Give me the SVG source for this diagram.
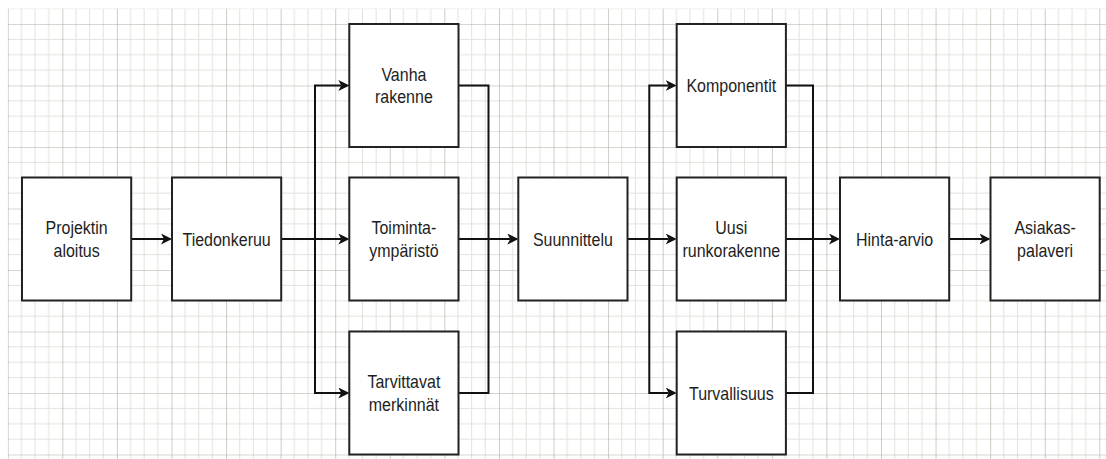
<svg xmlns="http://www.w3.org/2000/svg" width="1106" height="459" viewBox="0 0 1106 459">
  <style>
    .box { fill: #ffffff; stroke: #222222; stroke-width: 2; }
    .lbl { font-family: "Liberation Sans", Arial, sans-serif; font-size: 16px; fill: #1e1e1e; text-anchor: middle; }
    .wire { fill: none; stroke: #111111; stroke-width: 2; }
    .arrow { marker-end: url(#head); }
  </style>
  <defs>
    <!-- drafting paper: major lines every 4 cells -->
    <pattern id="paper" patternUnits="userSpaceOnUse" x="7.72" y="24" width="54.58" height="61.5">
      <g stroke="#e0e3db" stroke-width="1">
        <line x1="13.645" y1="0" x2="13.645" y2="61.5"/>
        <line x1="27.29" y1="0" x2="27.29" y2="61.5"/>
        <line x1="40.935" y1="0" x2="40.935" y2="61.5"/>
        <line x1="0" y1="15.375" x2="54.58" y2="15.375"/>
        <line x1="0" y1="30.75" x2="54.58" y2="30.75"/>
        <line x1="0" y1="46.125" x2="54.58" y2="46.125"/>
      </g>
      <g stroke="#a7ae9c" stroke-width="1.2">
        <line x1="0" y1="0" x2="0" y2="61.5"/>
        <line x1="0" y1="0" x2="54.58" y2="0"/>
      </g>
    </pattern>
    <marker id="head" viewBox="0 0 11 11" refX="3" refY="5.5" markerUnits="userSpaceOnUse" markerWidth="11" markerHeight="11" orient="auto">
      <path d="M0,0 L11,5.5 L0,11 L3,5.5 Z" fill="#111111"/>
    </marker>
  </defs>

  <rect width="1106" height="459" fill="#ffffff"/>
  <rect x="7.7" y="8.6" width="1098.3" height="450.4" fill="url(#paper)"/>

  <g id="connectors">
    <path class="wire arrow" d="M131,239 H164"/>
    <path class="wire arrow" d="M281.2,239 H341.3"/>
    <path class="wire arrow" d="M281.2,239 H315 V85.5 H341.3"/>
    <path class="wire arrow" d="M315,239 V393 H341.3"/>
    <path class="wire" d="M458.5,85.5 H488.5 V393 H458.5"/>
    <path class="wire arrow" d="M458.5,239 H510.3"/>
    <path class="wire arrow" d="M627.5,239 H668.7"/>
    <path class="wire arrow" d="M627.5,239 H649.3 V85.5 H668.7"/>
    <path class="wire arrow" d="M649.3,239 V393 H668.7"/>
    <path class="wire" d="M785.9,85.5 H813 V393 H785.9"/>
    <path class="wire arrow" d="M785.9,239 H832"/>
    <path class="wire arrow" d="M949.2,239 H982.5"/>
  </g>

  <g id="projektin-aloitus">
    <rect class="box" x="22" y="177.5" width="109.2" height="123"/>
    <text class="lbl" transform="translate(76.6,239) scale(1,1.127)"><tspan x="0" y="-4.4">Projektin</tspan><tspan x="0" y="15.6">aloitus</tspan></text>
  </g>
  <g id="tiedonkeruu">
    <rect class="box" x="172" y="177.5" width="109.2" height="123"/>
    <text class="lbl" transform="translate(226.6,239) scale(1,1.127)"><tspan x="0" y="5.8">Tiedonkeruu</tspan></text>
  </g>
  <g id="vanha-rakenne">
    <rect class="box" x="349.3" y="24" width="109.2" height="123"/>
    <text class="lbl" transform="translate(403.9,85.5) scale(1,1.127)"><tspan x="0" y="-4.4">Vanha</tspan><tspan x="0" y="15.6">rakenne</tspan></text>
  </g>
  <g id="toimintaymparisto">
    <rect class="box" x="349.3" y="177.5" width="109.2" height="123"/>
    <text class="lbl" transform="translate(403.9,239) scale(1,1.127)"><tspan x="0" y="-4.4">Toiminta-</tspan><tspan x="0" y="15.6">ympäristö</tspan></text>
  </g>
  <g id="tarvittavat-merkinnat">
    <rect class="box" x="349.3" y="331.5" width="109.2" height="123"/>
    <text class="lbl" transform="translate(403.9,393) scale(1,1.127)"><tspan x="0" y="-4.4">Tarvittavat</tspan><tspan x="0" y="15.6">merkinnät</tspan></text>
  </g>
  <g id="suunnittelu">
    <rect class="box" x="518.3" y="177.5" width="109.2" height="123"/>
    <text class="lbl" transform="translate(572.9,239) scale(1,1.127)"><tspan x="0" y="5.8">Suunnittelu</tspan></text>
  </g>
  <g id="komponentit">
    <rect class="box" x="676.7" y="24" width="109.2" height="123"/>
    <text class="lbl" transform="translate(731.3,85.5) scale(1,1.127)"><tspan x="0" y="5.8">Komponentit</tspan></text>
  </g>
  <g id="uusi-runkorakenne">
    <rect class="box" x="676.7" y="177.5" width="109.2" height="123"/>
    <text class="lbl" transform="translate(731.3,239) scale(1,1.127)"><tspan x="0" y="-4.4">Uusi</tspan><tspan x="0" y="15.6">runkorakenne</tspan></text>
  </g>
  <g id="turvallisuus">
    <rect class="box" x="676.7" y="331.5" width="109.2" height="123"/>
    <text class="lbl" transform="translate(731.3,393) scale(1,1.127)"><tspan x="0" y="5.8">Turvallisuus</tspan></text>
  </g>
  <g id="hinta-arvio">
    <rect class="box" x="840" y="177.5" width="109.2" height="123"/>
    <text class="lbl" transform="translate(894.6,239) scale(1,1.127)"><tspan x="0" y="5.8">Hinta-arvio</tspan></text>
  </g>
  <g id="asiakaspalaveri">
    <rect class="box" x="990.5" y="177.5" width="109.2" height="123"/>
    <text class="lbl" transform="translate(1045.1,239) scale(1,1.127)"><tspan x="0" y="-4.4">Asiakas-</tspan><tspan x="0" y="15.6">palaveri</tspan></text>
  </g>
</svg>
